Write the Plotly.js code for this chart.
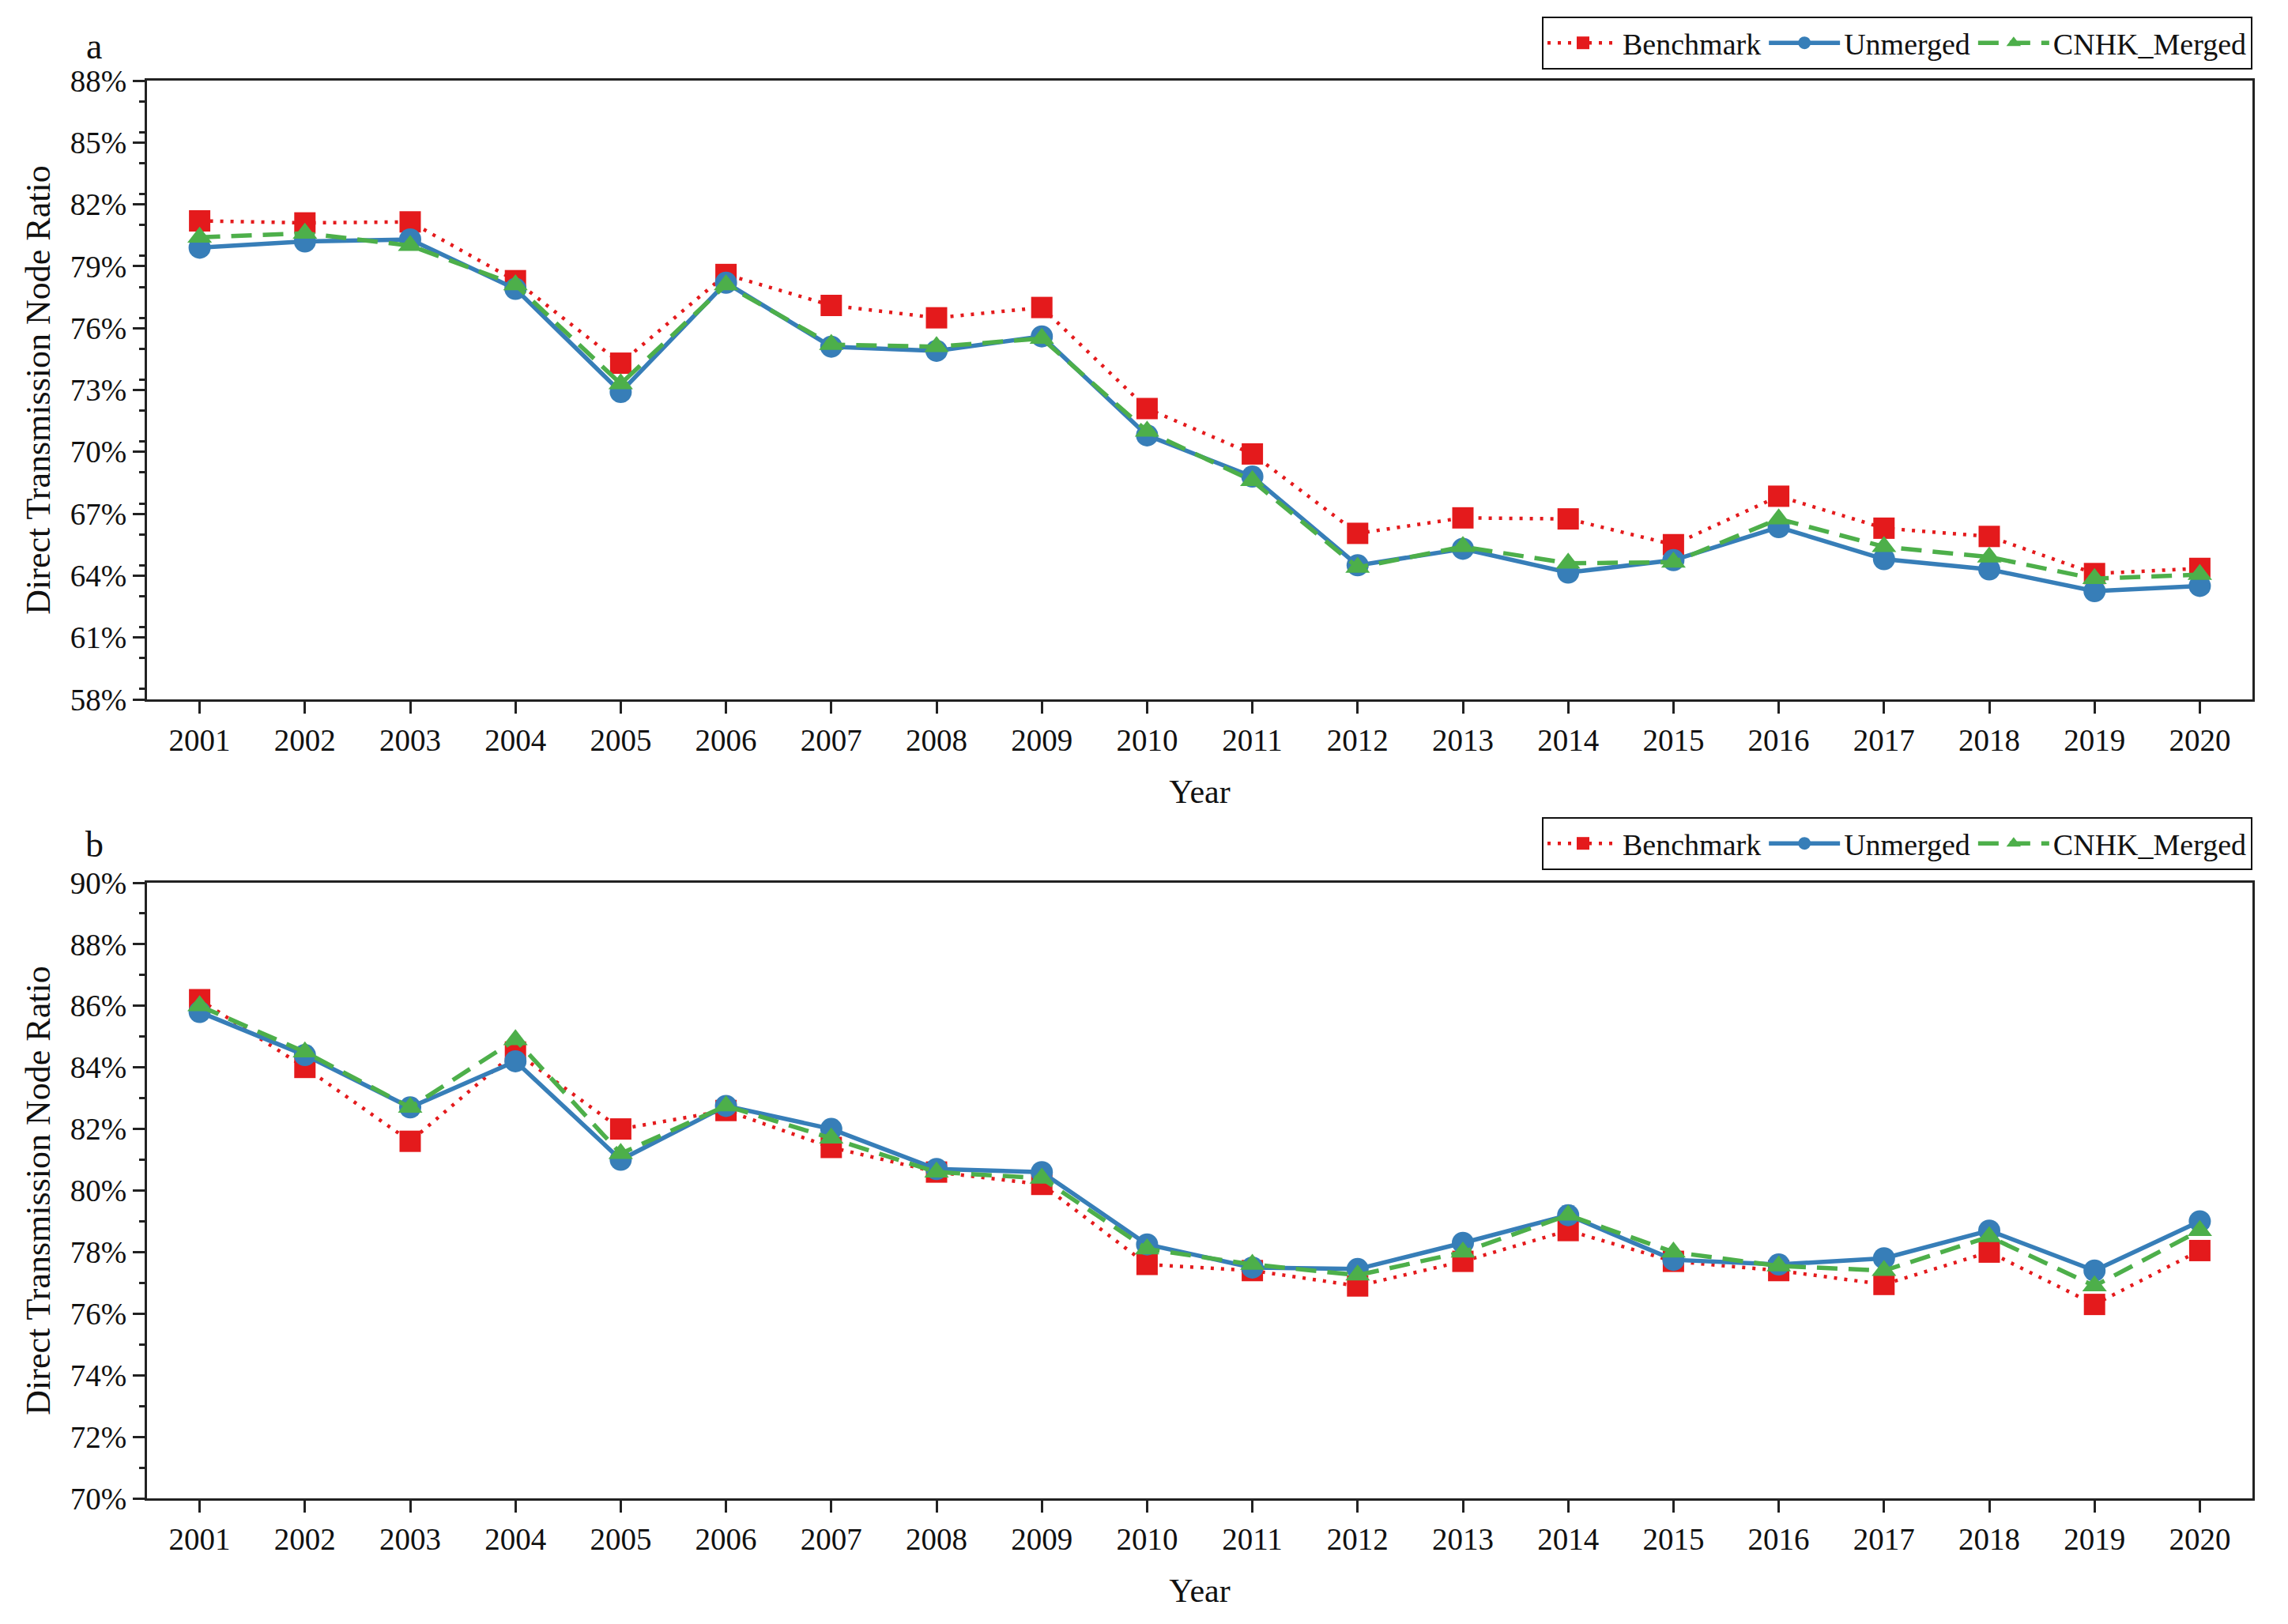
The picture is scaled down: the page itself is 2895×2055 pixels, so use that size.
<!DOCTYPE html>
<html>
<head>
<meta charset="utf-8">
<script src="https://cdn.plot.ly/plotly-3.0.1.min.js"></script>
<style>
  html, body { margin: 0; padding: 0; background: #ffffff; }
  #chart { width: 2895px; height: 2055px; }
</style>
</head>
<body>
<div id="chart"></div>
<script>
// years on the x axis (both panels)
const years = [2001, 2002, 2003, 2004, 2005, 2006, 2007, 2008, 2009, 2010,
               2011, 2012, 2013, 2014, 2015, 2016, 2017, 2018, 2019, 2020];

// panel a
const benchA    = [81.2, 81.1, 81.15, 78.3, 74.3, 78.6, 77.1, 76.5, 77.0, 72.1,
                   69.9, 66.05, 66.8, 66.75, 65.5, 67.85, 66.3, 65.9, 64.1, 64.35];
const unmergedA = [79.9, 80.2, 80.3, 77.9, 72.9, 78.2, 75.1, 74.9, 75.6, 70.8,
                   68.8, 64.5, 65.3, 64.15, 64.75, 66.35, 64.8, 64.3, 63.25, 63.5];
const cnhkA     = [80.4, 80.6, 80.0, 78.1, 73.3, 78.1, 75.2, 75.1, 75.5, 71.0,
                   68.6, 64.4, 65.4, 64.6, 64.65, 66.75, 65.4, 64.9, 63.85, 64.05];

// panel b
const benchB    = [86.2, 84.0, 81.6, 84.5, 82.0, 82.6, 81.4, 80.6, 80.2, 77.6,
                   77.4, 76.9, 77.7, 78.7, 77.7, 77.4, 76.95, 78.0, 76.3, 78.05];
const unmergedB = [85.8, 84.4, 82.7, 84.2, 81.0, 82.75, 82.0, 80.7, 80.6, 78.25,
                   77.5, 77.45, 78.3, 79.2, 77.75, 77.6, 77.8, 78.7, 77.4, 79.0];
const cnhkB     = [86.0, 84.5, 82.7, 84.9, 81.2, 82.75, 81.7, 80.6, 80.4, 78.1,
                   77.6, 77.25, 78.0, 79.2, 78.0, 77.55, 77.4, 78.5, 76.9, 78.7];

const seriesNames = ['Benchmark', 'Unmerged', 'CNHK_Merged'];
const panelLabels = ['a', 'b'];

const RED = '#e41a1c', BLUE = '#377eb8', GREEN = '#4daf4a';
const FONT = 'Liberation Serif, Times New Roman, serif';

function makeTraces(bench, unmerged, cnhk, xa, ya, legendId) {
    return [
        {
            x: years, y: bench, name: seriesNames[0], xaxis: xa, yaxis: ya, legend: legendId,
            type: 'scatter', mode: 'lines+markers',
            line: { color: RED, width: 4.5, dash: '4px,9px' },
            marker: { symbol: 'square', size: 27, color: RED }
        },
        {
            x: years, y: unmerged, name: seriesNames[1], xaxis: xa, yaxis: ya, legend: legendId,
            type: 'scatter', mode: 'lines+markers',
            line: { color: BLUE, width: 5.5 },
            marker: { symbol: 'circle', size: 28, color: BLUE }
        },
        {
            x: years, y: cnhk, name: seriesNames[2], xaxis: xa, yaxis: ya, legend: legendId,
            type: 'scatter', mode: 'lines+markers',
            line: { color: GREEN, width: 5.5, dash: '26px,14px' },
            marker: { symbol: 'triangle-up', size: 27, color: GREEN }
        }
    ];
}

const traces = [
    ...makeTraces(benchA, unmergedA, cnhkA, 'x', 'y', 'legend'),
    ...makeTraces(benchB, unmergedB, cnhkB, 'x2', 'y2', 'legend2')
];

// shared axis styling
const xBase = {
    range: [2000.5, 2020.5],
    dtick: 1, tick0: 2001,
    ticks: 'outside', ticklen: 15, tickwidth: 3, tickcolor: '#222',
    showline: true, linewidth: 3, linecolor: '#222', mirror: true,
    showgrid: false, zeroline: false,
    tickfont: { family: FONT, size: 39, color: '#111' },
    title: { text: 'Year', font: { family: FONT, size: 42, color: '#111' }, standoff: 30 }
};
const yBase = {
    ticks: 'outside', ticklen: 15, tickwidth: 3, tickcolor: '#222',
    ticksuffix: '%',
    showline: true, linewidth: 3, linecolor: '#222', mirror: true,
    showgrid: false, zeroline: false,
    tickfont: { family: FONT, size: 39, color: '#111' },
    title: { text: 'Direct Transmission Node Ratio', font: { family: FONT, size: 44, color: '#111' }, standoff: 12 }
};

const legendBase = {
    orientation: 'h',
    x: 2850 / 2895, xanchor: 'right',
    yanchor: 'bottom',
    bgcolor: '#ffffff',
    bordercolor: '#111', borderwidth: 2,
    font: { family: FONT, size: 38, color: '#111' },
    itemwidth: 90,
    tracegroupgap: 0
};

const xDomain = [186 / 2895, 2850 / 2895];

const layout = {
    width: 2895, height: 2055,
    margin: { l: 0, r: 0, t: 0, b: 0 },
    paper_bgcolor: '#ffffff',
    plot_bgcolor: '#ffffff',
    showlegend: true,
    xaxis:  Object.assign({}, xBase, { domain: xDomain, anchor: 'y' }),
    yaxis:  Object.assign({}, yBase, {
        domain: [1 - 885 / 2055, 1 - 102 / 2055], anchor: 'x',
        range: [58, 88], dtick: 3, tick0: 58,
        minor: { dtick: 1.5, ticks: 'outside', ticklen: 7, tickwidth: 3, tickcolor: '#222' }
    }),
    xaxis2: Object.assign({}, xBase, { domain: xDomain, anchor: 'y2' }),
    yaxis2: Object.assign({}, yBase, {
        domain: [1 - 1896 / 2055, 1 - 1117 / 2055], anchor: 'x2',
        range: [70, 90], dtick: 2, tick0: 70,
        minor: { dtick: 1, ticks: 'outside', ticklen: 7, tickwidth: 3, tickcolor: '#222' }
    }),
    legend:  Object.assign({}, legendBase, { y: 1 - 88 / 2055 }),
    legend2: Object.assign({}, legendBase, { y: 1 - 1101 / 2055 }),
    annotations: [
        { text: panelLabels[0], xref: 'paper', yref: 'paper', x: 119 / 2895, y: 1 - 58 / 2055,
          xanchor: 'center', yanchor: 'middle',
          showarrow: false, font: { family: FONT, size: 46, color: '#111' } },
        { text: panelLabels[1], xref: 'paper', yref: 'paper', x: 119 / 2895, y: 1 - 1068 / 2055,
          xanchor: 'center', yanchor: 'middle',
          showarrow: false, font: { family: FONT, size: 46, color: '#111' } }
    ]
};

Plotly.newPlot('chart', traces, layout, { displayModeBar: false, staticPlot: true });
</script>
</body>
</html>
